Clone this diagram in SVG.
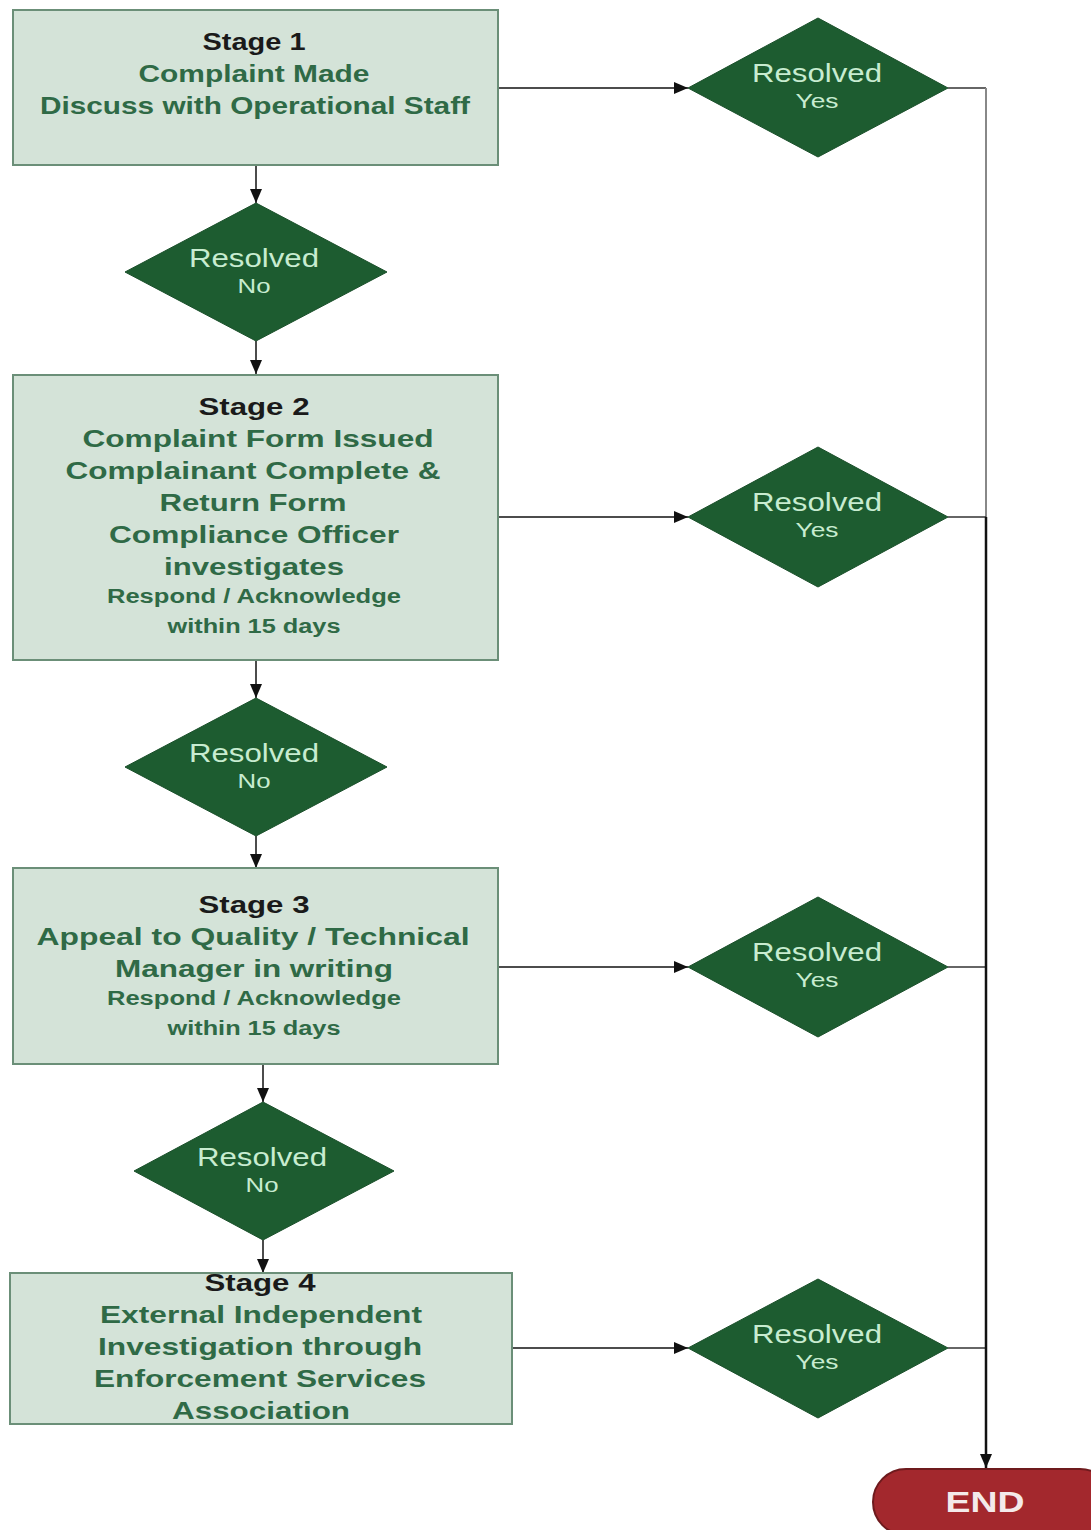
<svg xmlns="http://www.w3.org/2000/svg" width="1091" height="1530" viewBox="0 0 1091 1530">
<defs>
<marker id="arr" viewBox="0 0 14 12" refX="14" refY="6" markerWidth="14" markerHeight="12" markerUnits="userSpaceOnUse" orient="auto">
<path d="M0,0 L14,6 L0,12 Z" fill="#111"/>
</marker>
<style>
.box{fill:#d4e3d8;stroke:#6b8f78;stroke-width:2}
.dia{fill:#1d5c30;stroke:#1a4f2a;stroke-width:1}
.t{font-family:"Liberation Sans",Arial,sans-serif;font-weight:bold;text-anchor:middle}
.stg{font-size:24px;fill:#1a1a1a}
.g{font-size:24px;fill:#2f6a46}
.s{font-size:20px;fill:#2f6a46}
.dt{font-family:"Liberation Sans",Arial,sans-serif;text-anchor:middle;fill:#c8ecd0}
.r{font-size:26px}
.y{font-size:20px}
.c{fill:none;stroke:#111;stroke-width:1.5}
.ch{fill:none;stroke:#333;stroke-width:1.5}
.cg{fill:none;stroke:#888;stroke-width:2}
</style>
</defs>
<rect width="1091" height="1530" fill="#ffffff"/>

<g id="connectors">
<line class="c" x1="498" y1="88" x2="688" y2="88" marker-end="url(#arr)"/>
<line class="ch" x1="948" y1="88" x2="986" y2="88"/>
<line class="cg" x1="986" y1="88" x2="986" y2="517"/>
<line class="c" x1="498" y1="517" x2="688" y2="517" marker-end="url(#arr)"/>
<line class="ch" x1="948" y1="517" x2="986" y2="517"/>
<line class="c" x1="498" y1="967" x2="688" y2="967" marker-end="url(#arr)"/>
<line class="ch" x1="948" y1="967" x2="986" y2="967"/>
<line class="c" x1="497" y1="1348" x2="688" y2="1348" marker-end="url(#arr)"/>
<line class="ch" x1="948" y1="1348" x2="986" y2="1348"/>
<line x1="986" y1="517" x2="986" y2="1468" stroke="#111" stroke-width="2.5" marker-end="url(#arr)"/>
<line class="c" x1="256" y1="165" x2="256" y2="203" marker-end="url(#arr)"/>
<line class="c" x1="256" y1="341" x2="256" y2="374" marker-end="url(#arr)"/>
<line class="c" x1="256" y1="660" x2="256" y2="698" marker-end="url(#arr)"/>
<line class="c" x1="256" y1="836" x2="256" y2="868" marker-end="url(#arr)"/>
<line class="c" x1="263" y1="1064" x2="263" y2="1102" marker-end="url(#arr)"/>
<line class="c" x1="263" y1="1240" x2="263" y2="1273" marker-end="url(#arr)"/>
</g>

<g id="stage1">
<rect class="box" x="13" y="10" width="485" height="155"/>
<text class="t stg" x="254" y="50" textLength="103" lengthAdjust="spacingAndGlyphs">Stage 1</text>
<text class="t g" x="254" y="82" textLength="231" lengthAdjust="spacingAndGlyphs">Complaint Made</text>
<text class="t g" x="255" y="114" textLength="430" lengthAdjust="spacingAndGlyphs">Discuss with Operational Staff</text>
</g>

<g id="yes1">
<polygon class="dia" points="818,18 948,88 818,157 688,88"/>
<text class="dt r" x="817" y="82" textLength="130" lengthAdjust="spacingAndGlyphs">Resolved</text>
<text class="dt y" x="817" y="108" textLength="43" lengthAdjust="spacingAndGlyphs">Yes</text>
</g>

<g id="no1">
<polygon class="dia" points="256,203 387,272 256,341 125,272"/>
<text class="dt r" x="254" y="267" textLength="130" lengthAdjust="spacingAndGlyphs">Resolved</text>
<text class="dt y" x="254" y="293" textLength="33" lengthAdjust="spacingAndGlyphs">No</text>
</g>

<g id="stage2">
<rect class="box" x="13" y="375" width="485" height="285"/>
<text class="t stg" x="254" y="415" textLength="111" lengthAdjust="spacingAndGlyphs">Stage 2</text>
<text class="t g" x="258" y="447" textLength="351" lengthAdjust="spacingAndGlyphs">Complaint Form Issued</text>
<text class="t g" x="253" y="479" textLength="375" lengthAdjust="spacingAndGlyphs">Complainant Complete &amp;</text>
<text class="t g" x="253" y="511" textLength="187" lengthAdjust="spacingAndGlyphs">Return Form</text>
<text class="t g" x="254" y="543" textLength="290" lengthAdjust="spacingAndGlyphs">Compliance Officer</text>
<text class="t g" x="254" y="575" textLength="180" lengthAdjust="spacingAndGlyphs">investigates</text>
<text class="t s" x="254" y="603" textLength="294" lengthAdjust="spacingAndGlyphs">Respond / Acknowledge</text>
<text class="t s" x="254" y="633" textLength="173" lengthAdjust="spacingAndGlyphs">within 15 days</text>
</g>

<g id="yes2">
<polygon class="dia" points="818,447 948,517 818,587 688,517"/>
<text class="dt r" x="817" y="511" textLength="130" lengthAdjust="spacingAndGlyphs">Resolved</text>
<text class="dt y" x="817" y="537" textLength="43" lengthAdjust="spacingAndGlyphs">Yes</text>
</g>

<g id="no2">
<polygon class="dia" points="256,698 387,767 256,836 125,767"/>
<text class="dt r" x="254" y="762" textLength="130" lengthAdjust="spacingAndGlyphs">Resolved</text>
<text class="dt y" x="254" y="788" textLength="33" lengthAdjust="spacingAndGlyphs">No</text>
</g>

<g id="stage3">
<rect class="box" x="13" y="868" width="485" height="196"/>
<text class="t stg" x="254" y="913" textLength="111" lengthAdjust="spacingAndGlyphs">Stage 3</text>
<text class="t g" x="253" y="945" textLength="433" lengthAdjust="spacingAndGlyphs">Appeal to Quality / Technical</text>
<text class="t g" x="254" y="977" textLength="278" lengthAdjust="spacingAndGlyphs">Manager in writing</text>
<text class="t s" x="254" y="1005" textLength="294" lengthAdjust="spacingAndGlyphs">Respond / Acknowledge</text>
<text class="t s" x="254" y="1035" textLength="173" lengthAdjust="spacingAndGlyphs">within 15 days</text>
</g>

<g id="yes3">
<polygon class="dia" points="818,897 948,967 818,1037 688,967"/>
<text class="dt r" x="817" y="961" textLength="130" lengthAdjust="spacingAndGlyphs">Resolved</text>
<text class="dt y" x="817" y="987" textLength="43" lengthAdjust="spacingAndGlyphs">Yes</text>
</g>

<g id="no3">
<polygon class="dia" points="263,1102 394,1171 263,1240 134,1171"/>
<text class="dt r" x="262" y="1166" textLength="130" lengthAdjust="spacingAndGlyphs">Resolved</text>
<text class="dt y" x="262" y="1192" textLength="33" lengthAdjust="spacingAndGlyphs">No</text>
</g>

<g id="stage4">
<rect class="box" x="10" y="1273" width="502" height="151"/>
<text class="t stg" x="260" y="1291" textLength="111" lengthAdjust="spacingAndGlyphs">Stage 4</text>
<text class="t g" x="261" y="1323" textLength="322" lengthAdjust="spacingAndGlyphs">External Independent</text>
<text class="t g" x="260" y="1355" textLength="324" lengthAdjust="spacingAndGlyphs">Investigation through</text>
<text class="t g" x="260" y="1387" textLength="332" lengthAdjust="spacingAndGlyphs">Enforcement Services</text>
<text class="t g" x="261" y="1419" textLength="178" lengthAdjust="spacingAndGlyphs">Association</text>
</g>

<g id="yes4">
<polygon class="dia" points="818,1279 948,1348 818,1418 688,1348"/>
<text class="dt r" x="817" y="1343" textLength="130" lengthAdjust="spacingAndGlyphs">Resolved</text>
<text class="dt y" x="817" y="1369" textLength="43" lengthAdjust="spacingAndGlyphs">Yes</text>
</g>

<g id="end">
<rect x="873" y="1469" width="240" height="66" rx="33" ry="33" fill="#a3282d" stroke="#6e1a1d" stroke-width="2"/>
<text class="t" x="985" y="1512" font-size="30" fill="#f4eaea" textLength="79" lengthAdjust="spacingAndGlyphs">END</text>
</g>
</svg>
